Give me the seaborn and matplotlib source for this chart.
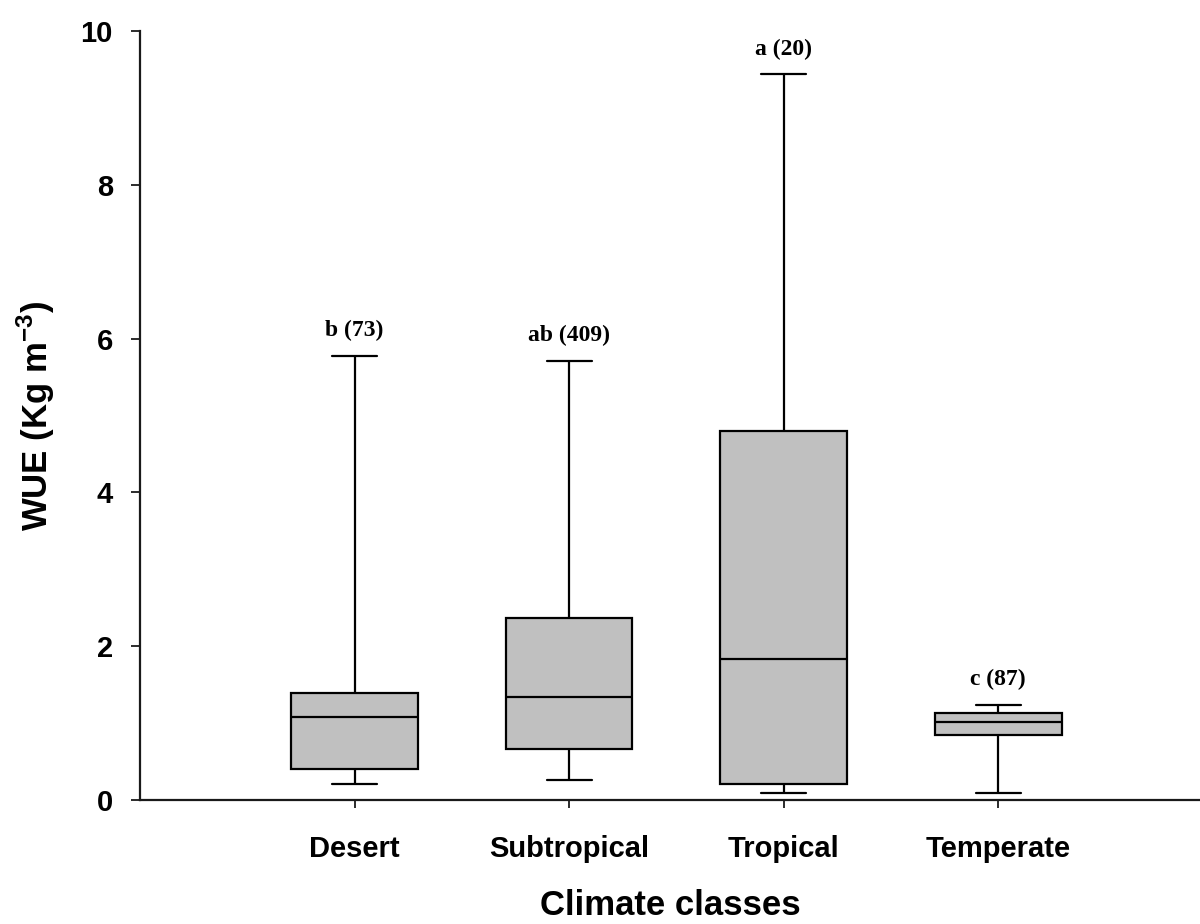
import numpy as np
import pandas as pd
import matplotlib
matplotlib.use("Agg")
import matplotlib.pyplot as plt
import seaborn as sns

# Box-plot summary of water use efficiency by climate class
climates = ["Desert", "Subtropical", "Tropical", "Temperate"]
wue_min = [0.21, 0.26, 0.09, 0.09]
wue_q1 = [0.40, 0.66, 0.21, 0.85]
wue_median = [1.08, 1.34, 1.83, 1.01]
wue_q3 = [1.39, 2.37, 4.80, 1.13]
wue_max = [5.78, 5.71, 9.44, 1.24]
group_letters = ["b", "ab", "a", "c"]
sample_sizes = [73, 409, 20, 87]

# Five summary values per class; with whiskers at 0-100 percentiles the
# linear-interpolated quartiles reproduce these summaries exactly.
rows = []
for i, c in enumerate(climates):
    for v in (wue_min[i], wue_q1[i], wue_median[i], wue_q3[i], wue_max[i]):
        rows.append({"climate": c, "wue": v})
df = pd.DataFrame(rows)

sns.set_style("ticks")
plt.rcParams["mathtext.fontset"] = "custom"
plt.rcParams["mathtext.rm"] = "Liberation Sans:bold"
plt.rcParams["mathtext.bf"] = "Liberation Sans:bold"
plt.rcParams["text.color"] = "black"
plt.rcParams["axes.labelcolor"] = "black"

fig = plt.figure(figsize=(12, 9.24), dpi=100)
ax = fig.add_axes([140 / 1200, 1 - 800 / 924, 1060 / 1200, 769 / 924])

lw = 1.6
sns.boxplot(
    data=df, x="climate", y="wue", order=climates, ax=ax,
    whis=(0, 100), width=0.59, color="#c0c0c0", saturation=1,
    linecolor="black", linewidth=lw, showfliers=False,
    capwidths=0.21,
    boxprops=dict(facecolor="#c0c0c0", edgecolor="black", linewidth=lw),
    medianprops=dict(color="black", linewidth=lw),
    whiskerprops=dict(color="black", linewidth=lw),
    capprops=dict(color="black", linewidth=lw),
)

# Significance letters with sample sizes above each upper whisker
for i in range(len(climates)):
    ax.annotate(
        f"{group_letters[i]} ({sample_sizes[i]})",
        xy=(i, wue_max[i]), xytext=(0, 14), textcoords="offset points",
        ha="center", va="baseline", fontsize=17, fontweight="bold",
        family="Liberation Serif", color="black",
    )

ax.set_ylim(0, 10)
ax.set_xlim(-1.0, 3.94)
ax.set_yticks([0, 2, 4, 6, 8, 10])

for s in ("top", "right"):
    ax.spines[s].set_visible(False)
for s in ("left", "bottom"):
    ax.spines[s].set_linewidth(1.6)
    ax.spines[s].set_color("#1a1a1a")

ax.tick_params(axis="y", direction="out", length=6.5, width=1.3, pad=13,
               labelsize=21, color="#1a1a1a", labelcolor="black")
ax.tick_params(axis="x", direction="out", length=6, width=1.3, pad=19,
               labelsize=21, color="#1a1a1a", labelcolor="black")
for lab in ax.get_xticklabels() + ax.get_yticklabels():
    lab.set_fontfamily("Liberation Sans")
    lab.set_fontweight("bold")

ax.set_xlabel("Climate classes", fontsize=25, fontweight="bold",
              family="Liberation Sans", labelpad=19, color="black")
ax.set_ylabel(r"WUE (Kg m$^{\mathbf{-3}}$)", fontsize=25, fontweight="bold",
              family="Liberation Sans", labelpad=17, color="black")

fig.savefig("out.png", dpi=100)
